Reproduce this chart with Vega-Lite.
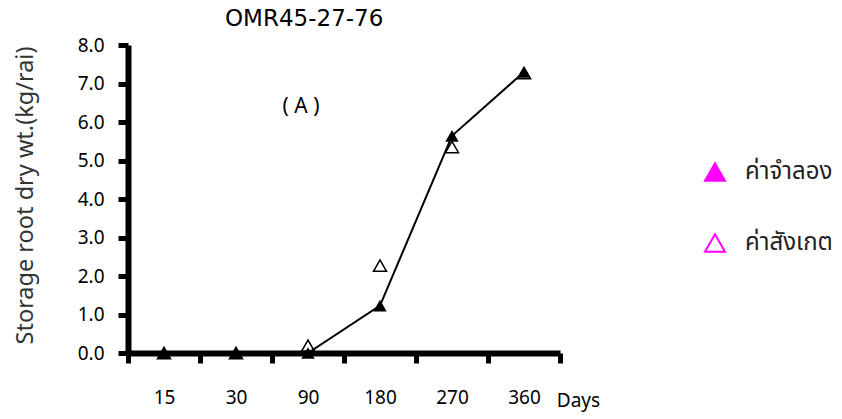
{
  "$schema": "https://vega.github.io/schema/vega-lite/v6.json",
  "width": 432,
  "height": 308,
  "autosize": {"type": "none"},
  "padding": {"left": 128, "top": 45, "right": 282, "bottom": 66},
  "background": "white",
  "config": {
    "view": {"stroke": null},
    "font": "Noto Sans"
  },
  "title": {
    "text": "OMR45-27-76",
    "anchor": "start",
    "frame": "group",
    "dx": 97,
    "fontSize": 23,
    "fontWeight": "normal",
    "font": "DejaVu Sans",
    "color": "#000",
    "offset": 5
  },
  "datasets": {
    "points": [
      {"day": 15, "value": 0, "series": "ค่าสังเกต"},
      {"day": 30, "value": 0, "series": "ค่าสังเกต"},
      {"day": 90, "value": 0.19, "series": "ค่าสังเกต"},
      {"day": 180, "value": 2.27, "series": "ค่าสังเกต"},
      {"day": 270, "value": 5.35, "series": "ค่าสังเกต"},
      {"day": 360, "value": 7.27, "series": "ค่าสังเกต"},
      {"day": 15, "value": 0, "series": "ค่าจำลอง"},
      {"day": 30, "value": 0, "series": "ค่าจำลอง"},
      {"day": 90, "value": 0, "series": "ค่าจำลอง"},
      {"day": 180, "value": 1.23, "series": "ค่าจำลอง"},
      {"day": 270, "value": 5.64, "series": "ค่าจำลอง"},
      {"day": 360, "value": 7.3, "series": "ค่าจำลอง"}
    ],
    "note": [{"day": 90, "value": 6.4, "label": "( A )"}]
  },
  "encoding": {
    "x": {
      "field": "day", "type": "ordinal",
      "scale": {"type": "band", "paddingInner": 0, "paddingOuter": 0, "domain": [15, 30, 90, 180, 270, 360]},
      "axis": {
        "tickBand": "extent", "labelAngle": 0, "labelPadding": 25, "labelFontSize": 19, "labelColor": "#000",
        "domainWidth": 6, "domainColor": "#000", "tickWidth": 5, "tickSize": 10, "tickColor": "#000",
        "grid": false,
        "title": "Days", "titleFontSize": 19, "titleFontWeight": "normal", "titleColor": "#000",
        "titleX": 450, "titleY": 53, "titleAlign": "center", "titleBaseline": "alphabetic"
      }
    },
    "y": {
      "field": "value", "type": "quantitative",
      "scale": {"domain": [0, 8], "nice": false},
      "axis": {
        "values": [0, 1, 2, 3, 4, 5, 6, 7, 8], "format": ".1f", "labelPadding": 14, "labelOverlap": false,
        "labelFontSize": 19, "labelColor": "#000",
        "domainWidth": 6, "domainColor": "#000", "tickWidth": 5, "tickSize": 10, "tickColor": "#000",
        "grid": false,
        "title": "Storage root dry wt.(kg/rai)", "titleFontSize": 23.5, "titleFontWeight": "normal", "titleColor": "#333",
        "titleX": -103, "titleY": 150, "titleAlign": "center", "titleBaseline": "middle", "titleAngle": -90
      }
    }
  },
  "layer": [
    {
      "data": {"name": "points"},
      "transform": [{"filter": "datum.series === 'ค่าสังเกต'"}],
      "mark": {"type": "point", "shape": "triangle-up", "filled": false, "size": 170, "stroke": "#000", "strokeWidth": 1.5, "opacity": 1}
    },
    {
      "data": {"name": "points"},
      "transform": [{"filter": "datum.series === 'ค่าจำลอง'"}],
      "mark": {"type": "line", "color": "#000", "strokeWidth": 2}
    },
    {
      "data": {"name": "points"},
      "transform": [{"filter": "datum.series === 'ค่าจำลอง'"}],
      "mark": {"type": "point", "shape": "triangle-up", "filled": true, "size": 180, "color": "#000", "opacity": 1}
    },
    {
      "data": {"name": "points"},
      "transform": [{"filter": "false"}],
      "mark": {"type": "point", "shape": "triangle-up", "filled": true, "opacity": 1, "strokeWidth": 2},
      "encoding": {
        "fill": {
          "field": "series", "type": "nominal",
          "scale": {"domain": ["ค่าจำลอง", "ค่าสังเกต"], "range": ["#ff00ff", "transparent"]},
          "legend": {
            "title": null, "orient": "none", "legendX": 575, "legendY": 115,
            "padding": 0, "symbolSize": 400, "symbolStrokeWidth": 2, "symbolOpacity": 1,
            "labelFontSize": 24, "labelColor": "#222", "labelOffset": 18, "rowPadding": 45,
            "labelFont": "Noto Sans Thai"
          }
        },
        "stroke": {
          "field": "series", "type": "nominal",
          "scale": {"domain": ["ค่าจำลอง", "ค่าสังเกต"], "range": ["#ff00ff", "#ff00ff"]},
          "legend": {
            "title": null, "orient": "none", "legendX": 575, "legendY": 115,
            "padding": 0, "symbolSize": 400, "symbolStrokeWidth": 2, "symbolOpacity": 1,
            "labelFontSize": 24, "labelColor": "#222", "labelOffset": 18, "rowPadding": 45,
            "labelFont": "Noto Sans Thai"
          }
        }
      }
    },
    {
      "data": {"name": "note"},
      "mark": {"type": "text", "fontSize": 21, "color": "#000", "dx": -7, "baseline": "middle"},
      "encoding": {
        "text": {"field": "label"}
      }
    }
  ]
}
